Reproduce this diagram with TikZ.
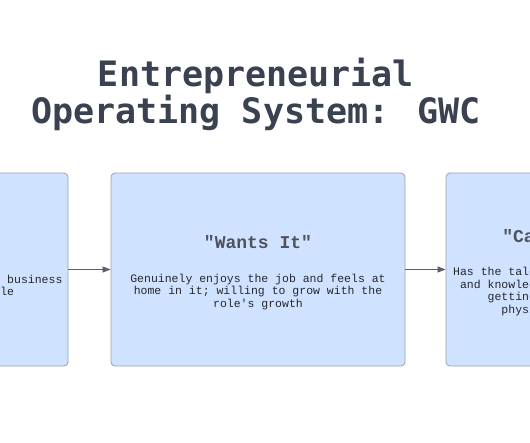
\documentclass[tikz,border=0pt]{standalone}
\usepackage{fontspec}
\setmonofont{Liberation Mono}
\newfontfamily\headmono{DejaVu Sans Mono}
\usetikzlibrary{arrows.meta,positioning}
\definecolor{boxfill}{HTML}{CFE2FF}
\definecolor{boxline}{HTML}{9AA1AD}
\definecolor{inkdark}{HTML}{3A4150}
\definecolor{inkgrey}{HTML}{4E535C}
\definecolor{inktext}{HTML}{25282D}
\definecolor{pinline}{HTML}{5A606B}
\newcommand{\gwchead}[1]{{\fontsize{18}{20}\selectfont\bfseries\color{inkgrey}#1}}
\tikzset{pin/.style={-{Triangle[length=8pt, width=6pt]}, pinline, line width=0.7pt},
  gwcbox/.style={draw=boxline, fill=boxfill, line width=0.8pt, rounded corners=4pt,
    minimum width=294pt, minimum height=193pt},
  gwctext/.style={align=center, text=inktext, font=\ttfamily\fontsize{11.5}{12.6}\selectfont}}
\begin{document}
\begin{tikzpicture}[x=1pt, y=-1pt]
  \useasboundingbox (0,0) rectangle (530,442);
  \clip (0,0) rectangle (530,442);
  \fill[white] (0,0) rectangle (530,442);
  % heading
  \node[font=\headmono\bfseries\fontsize{35}{35}\selectfont, text=inkdark, align=center] (head) at (256,94.5)
    {Entrepreneurial\\Operating System: GWC};
  % the three GWC boxes
  \node[gwcbox] (gets) at (-79,269.5) {};
  \node[gwcbox] (wants) at (258,269.5) {};
  \node[gwcbox, minimum width=318pt] (cap) at (605,269.5) {};
  \node[gwctext] (getstxt) at ([yshift=-3pt]gets.center)
    {\gwchead{"Gets It"}\\[21pt] Clearly understands the team and business\\ and the demands of the role\\ inside and out};
  \node[gwctext] (wantstxt) at ([yshift=-3pt]wants.center)
    {\gwchead{"Wants It"}\\[21pt] Genuinely enjoys the job and feels at\\ home in it; willing to grow with the\\ role's growth};
  \node[gwctext] (captxt) at ([yshift=-3pt]cap.center)
    {\gwchead{"Capacity to Do It"}\\[21pt] Has the talent, the time, emotional capacity\\ and knowledge to handle the role properly,\\ getting the work done mentally and\\ physically, each and every day};
  \foreach \a/\b in {gets/wants, wants/cap}{\draw[pin] (\a.east) -- (\b.west);}
\end{tikzpicture}
\end{document}
